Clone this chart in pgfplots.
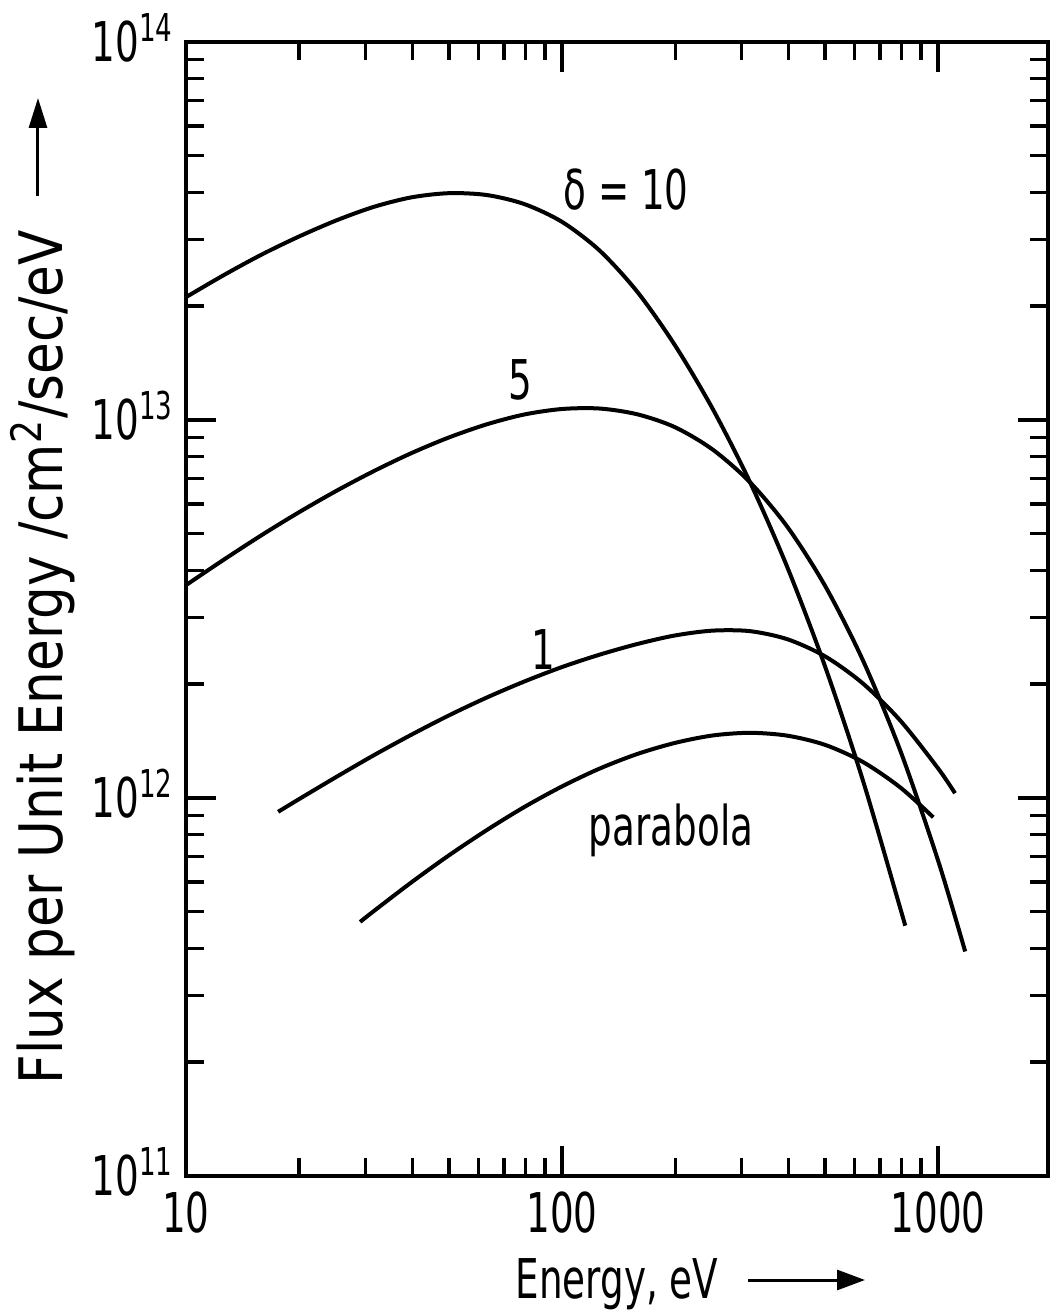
\documentclass[border=0pt]{standalone}
\usepackage{fontspec}
\setmainfont{DejaVu Sans}[FakeStretch=0.68]
\newfontfamily\ylabfont{DejaVu Sans}[FakeStretch=0.86]
\usepackage{pgfplots}
\pgfplotsset{compat=1.18}
\usetikzlibrary{arrows.meta}
\begin{document}
\fontsize{13.7}{16}\selectfont
\begin{tikzpicture}[font=\fontsize{13.7}{16}\selectfont]
\begin{axis}[name=ax,
  xmode=log, ymode=log,
  scale only axis, width=215.5pt, height=283.5pt,
  xmin=10, xmax=1960, ymin=1e11, ymax=1e14,
  axis line style={line width=0.85pt},
  tick align=inside,
  major tick length=7.5pt, minor tick length=4.5pt,
  every tick/.style={line width=0.85pt, black},
  xtick={10,100,1000}, xticklabels={10,100,1000},
  minor xtick={20,30,40,50,60,70,80,90,200,300,400,500,600,700,800,900},
  ytick={1e11,1e12,1e13,1e14},
  yticklabels={10\textsuperscript{11},10\textsuperscript{12},10\textsuperscript{13},10\textsuperscript{14}},
  minor ytick={2e11,3e11,4e11,5e11,6e11,7e11,8e11,9e11,2e12,3e12,4e12,5e12,6e12,7e12,8e12,9e12,2e13,3e13,4e13,5e13,6e13,7e13,8e13,9e13},
  xticklabel style={anchor=base, inner sep=0pt, yshift=-14.25pt},
  yticklabel style={anchor=base east, inner sep=0pt, xshift=-2.75pt, yshift=-5pt},
  clip=false,
]
% delta = 10
\addplot[line width=1pt, smooth] coordinates {
(10,2.113e13) (12.59,2.415e13) (15.85,2.735e13) (19.95,3.055e13) (25.12,3.373e13)
(31.62,3.664e13) (39.81,3.882e13) (50.12,3.981e13) (63.10,3.936e13) (79.43,3.724e13)
(100,3.342e13) (125.9,2.805e13) (158.5,2.183e13) (199.5,1.578e13) (251.2,1.072e13)
(316.2,6.839e12) (398.1,4.055e12) (501.2,2.218e12) (631.0,1.112e12) (794.3,5.082e11)
(817,4.603e11)};
% delta = 5
\addplot[line width=1pt, smooth] coordinates {
(10,3.656e12) (12.59,4.266e12) (15.85,4.950e12) (19.95,5.694e12) (25.12,6.494e12)
(31.62,7.328e12) (39.81,8.175e12) (50.12,8.995e12) (63.10,9.739e12) (79.43,1.034e13)
(100,1.069e13) (125.9,1.072e13) (158.5,1.035e13) (199.5,9.572e12) (251.2,8.356e12)
(316.2,6.839e12) (398.1,5.200e12) (501.2,3.631e12) (631.0,2.312e12) (794.3,1.330e12)
(1000,6.823e11) (1180,3.926e11)};
% delta = 1
\addplot[line width=1pt, smooth] coordinates {
(17.58,9.19e11) (19.95,9.918e11) (25.12,1.137e12) (31.62,1.298e12) (39.81,1.471e12)
(50.12,1.655e12) (63.10,1.844e12) (79.43,2.033e12) (100,2.220e12) (125.9,2.394e12)
(158.5,2.554e12) (199.5,2.690e12) (251.2,2.771e12) (316.2,2.762e12) (398.1,2.628e12)
(501.2,2.367e12) (631.0,2.008e12) (794.3,1.600e12) (1000,1.197e12) (1109,1.029e12)};
% parabola
\addplot[line width=1pt, smooth] coordinates {
(29.04,4.699e11) (31.62,5.025e11) (39.81,5.987e11) (50.12,7.059e11) (63.10,8.225e11)
(79.43,9.467e11) (100,1.073e12) (125.9,1.196e12) (158.5,1.307e12) (199.5,1.398e12)
(251.2,1.463e12) (316.2,1.487e12) (398.1,1.461e12) (501.2,1.381e12) (631.0,1.245e12)
(794.3,1.065e12) (970.5,8.889e11)};
\node at (axis cs:148,4.06e13) {δ = 10};
\node at (axis cs:77.3,1.28e13) {5};
\node at (axis cs:89,2.47e12) {1};
\node at (axis cs:195,8.2e11) {parabola};
\end{axis}
\node[rotate=90, anchor=base west, inner sep=0pt, font=\fontsize{15}{17}\ylabfont]
  at ([shift={(-31pt,22.75pt)}]ax.south west) {Flux per Unit Energy /cm\textsuperscript{2}/sec/eV};
\draw[line width=0.75pt, -{Triangle[length=7.5pt,width=4.5pt]}]
  ([shift={(-37pt,245pt)}]ax.south west) -- ([shift={(-37pt,269.5pt)}]ax.south west);
\node[anchor=base, inner sep=0pt] at ([shift={(107.75pt,-30.5pt)}]ax.south west) {Energy, eV};
\draw[line width=0.75pt, -{Triangle[length=7pt,width=5pt]}]
  ([shift={(140.5pt,-26pt)}]ax.south west) -- ([shift={(169.75pt,-26pt)}]ax.south west);
\pgfresetboundingbox
\path ([shift={(-46.5pt,-34.5pt)}]ax.south west) rectangle ([shift={(215.75pt,294pt)}]ax.south west);
\end{tikzpicture}
\end{document}
